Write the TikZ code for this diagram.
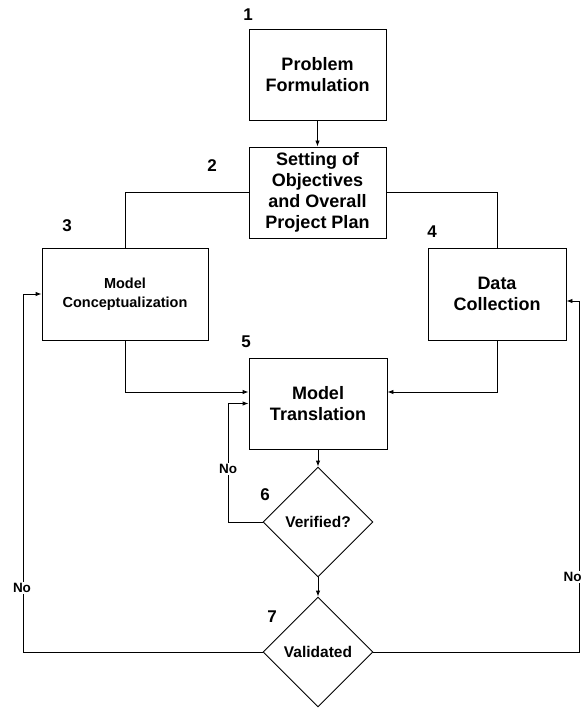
\documentclass[tikz,border=0pt]{standalone}
\usepackage{fontspec}
\setmainfont{Liberation Sans}
\usetikzlibrary{shapes.geometric,arrows.meta}
\begin{document}
\begin{tikzpicture}[x=1pt,y=-1pt,
  line width=0.9pt,
  every node/.style={font=\bfseries},
  box/.style={draw,rectangle,inner sep=0pt,align=center,font=\fontsize{18}{21}\selectfont\bfseries},
  smallbox/.style={box,font=\fontsize{14.5}{19}\selectfont\bfseries},
  dia/.style={draw,diamond,aspect=1,inner sep=0pt,minimum width=110pt,minimum height=110pt,font=\fontsize{15.5}{18}\selectfont\bfseries},
  num/.style={font=\fontsize{17}{20}\selectfont\bfseries,inner sep=0pt},
  nolab/.style={fill=white,inner sep=1pt,font=\fontsize{13.5}{15}\selectfont\bfseries},
  arr/.style={-{Latex[length=6pt,width=4.5pt]}}]
\useasboundingbox (0,0) rectangle (583,708);
\fill[white] (0,0) rectangle (583,708);

\node[box,minimum width=137pt,minimum height=91pt] (b1) at (317.5,74.5) {Problem\\Formulation};
\node[box,minimum width=137pt,minimum height=91pt] (b2) at (317.5,192.5) {Setting of\\Objectives\\and Overall\\Project Plan};
\node[smallbox,minimum width=166pt,minimum height=92pt] (b3) at (125,294) {Model\\Conceptualization};
\node[box,minimum width=138pt,minimum height=92pt] (b4) at (497,294) {Data\\Collection};
\node[box,minimum width=138pt,minimum height=91pt] (b5) at (318,403.5) {Model\\Translation};
\node[dia] (d6) at (318,522) {Verified?};
\node[dia] (d7) at (318,652) {Validated};

\node[num] (n1) at (248,15) {1};
\node[num] (n2) at (212,166) {2};
\node[num] (n3) at (67,226) {3};
\node[num] (n4) at (432,232) {4};
\node[num] (n5) at (246,342) {5};
\node[num] (n6) at (265,495) {6};
\node[num] (n7) at (272,617) {7};

\draw[arr] (b1.south) -- (b2.north);
\draw (b2.west) -| (b3.north);
\draw (b2.east) -| (b4.north);
\draw[arr] (b3.south) |- ([yshift=11.5pt]b5.west);
\draw[arr] (b4.south) |- ([yshift=11.5pt]b5.east);
\draw[arr] (b5.south) -- (d6.north);
\draw[arr] (d6.south) -- (d7.north);
\draw[arr] (d6.west) -- ++(-34,0) coordinate (c6) |- (b5.west);
\draw[arr] (d7.west) -- (23,652) coordinate (c7l) |- (b3.west);
\draw[arr] (d7.east) -- (579,652) coordinate (c7r) |- ([yshift=-7pt]b4.east);

\node[nolab] (no6) at (228,469) {No};
\node[nolab] (no7l) at (22,588) {No};
\node[nolab,anchor=east] (no7r) at (583,577) {No};
\end{tikzpicture}
\end{document}
